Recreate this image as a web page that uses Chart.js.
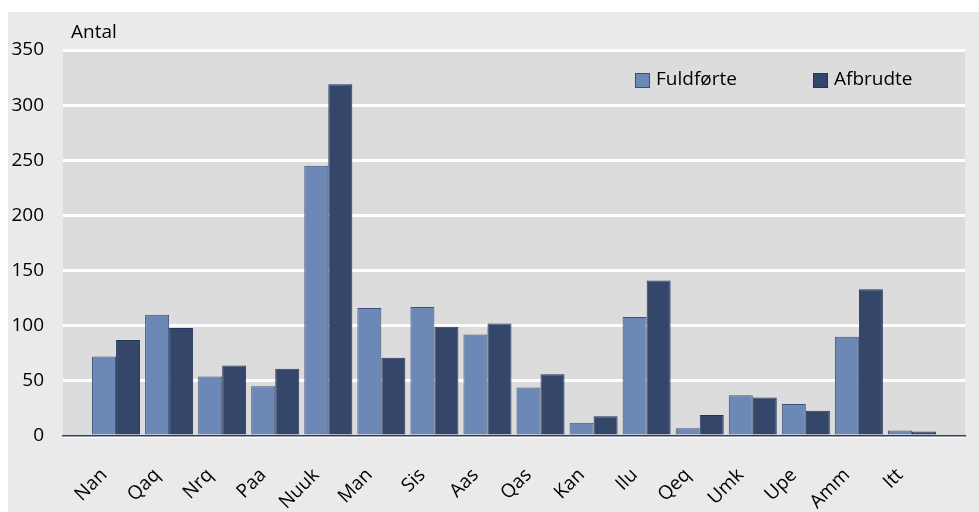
<!DOCTYPE html>
<html>
<head>
<meta charset="utf-8">
<script src="https://cdn.jsdelivr.net/npm/chart.js@4/dist/chart.umd.min.js"></script>
<style>
  body { margin: 0; background: #fff; }
</style>
</head>
<body>
<canvas id="myChart" width="979" height="512"></canvas>
<script>
// kommuner / byer
const categories = ['Nan', 'Qaq', 'Nrq', 'Paa', 'Nuuk', 'Man', 'Sis', 'Aas', 'Qas', 'Kan', 'Ilu', 'Qeq', 'Umk', 'Upe', 'Amm', 'Itt'];
const fuldforte = [72, 110, 54, 45, 245, 116, 117, 92, 44, 12, 108, 7, 37, 29, 90, 5];
const afbrudte = [87, 98, 64, 61, 319, 71, 99, 102, 56, 18, 141, 19, 35, 23, 133, 4];
const yTicks = [0, 50, 100, 150, 200, 250, 300, 350];
const seriesNames = ['Fuldførte', 'Afbrudte'];
const yTitle = 'Antal';

const FONT = '"Open Sans", sans-serif';
Chart.defaults.font.family = FONT;
Chart.defaults.font.size = 19;
Chart.defaults.color = '#000';

// empty slot at each end gives the gap before Nan and after Itt
let labels = [''].concat(categories, ['']);
let pad = (arr) => [null].concat(arr, [null]);

let bgPlugin = {
  id: 'bg',
  beforeDraw(chart) {
    let ctx = chart.ctx, a = chart.chartArea;
    ctx.save();
    ctx.fillStyle = '#fff';
    ctx.fillRect(0, 0, chart.width, chart.height);
    ctx.fillStyle = '#eaeaea';
    ctx.fillRect(8, 12, chart.width - 8, chart.height - 12);
    ctx.fillStyle = '#dcdcdc';
    ctx.fillRect(a.left, a.top, a.right - a.left, a.bottom - a.top);
    ctx.restore();
  },
  afterDatasetsDraw(chart) {
    let ctx = chart.ctx;
    ctx.save();
    ctx.font = '19px ' + FONT;
    ctx.fillStyle = '#000';
    ctx.textBaseline = 'middle';
    ctx.fillText(yTitle, 71, 33);

    // legend
    let legendX = [635, 813];
    chart.data.datasets.forEach((ds, i) => {
      ctx.fillStyle = ds.backgroundColor;
      ctx.fillRect(legendX[i], 73, 15, 15);
      ctx.strokeStyle = ds.borderColor;
      ctx.lineWidth = 1;
      ctx.strokeRect(legendX[i] + 0.5, 73.5, 14, 14);
      ctx.fillStyle = '#000';
      ctx.fillText(ds.label, legendX[i] + 21, 80);
    });
    ctx.restore();
  }
};

let ctx = document.getElementById('myChart').getContext('2d');
window.chart = new Chart(ctx, {
  type: 'bar',
  data: {
    labels: labels,
    datasets: [{
      label: seriesNames[0],
      backgroundColor: '#6b88b6',
      borderColor: '#3d4f76',
      borderWidth: 1,
      data: pad(fuldforte)
    }, {
      label: seriesNames[1],
      backgroundColor: '#34476b',
      borderColor: '#25345a',
      borderWidth: 1,
      data: pad(afbrudte)
    }]
  },
  options: {
    responsive: false,
    animation: false,
    devicePixelRatio: 1,
    layout: { padding: { left: 0, right: 14, top: 50, bottom: 0 } },
    datasets: {
      bar: { categoryPercentage: 0.905, barPercentage: 1.0 }
    },
    plugins: {
      legend: { display: false },
      tooltip: { enabled: false }
    },
    scales: {
      x: {
        offset: false,
        grid: { display: false, drawTicks: false },
        border: { display: true, color: '#2e3f66', width: 1.5 },
        ticks: {
          autoSkip: false,
          minRotation: 45,
          maxRotation: 45,
          padding: 28,
          labelOffset: -12,
          color: '#000'
        },
        afterFit: (s) => {
          s.height = 76;
          s.paddingLeft = 0;
          s.paddingRight = 0;
        }
      },
      y: {
        min: yTicks[0],
        max: yTicks[yTicks.length - 1],
        grid: { color: '#fff', lineWidth: 3, drawTicks: false },
        border: { display: false },
        ticks: {
          stepSize: yTicks[1] - yTicks[0],
          padding: 19,
          color: '#000'
        },
        afterFit: (s) => {
          s.width = 63;
          s.paddingTop = 0;
          s.paddingBottom = 0;
        }
      }
    }
  },
  plugins: [bgPlugin]
});
</script>
</body>
</html>
